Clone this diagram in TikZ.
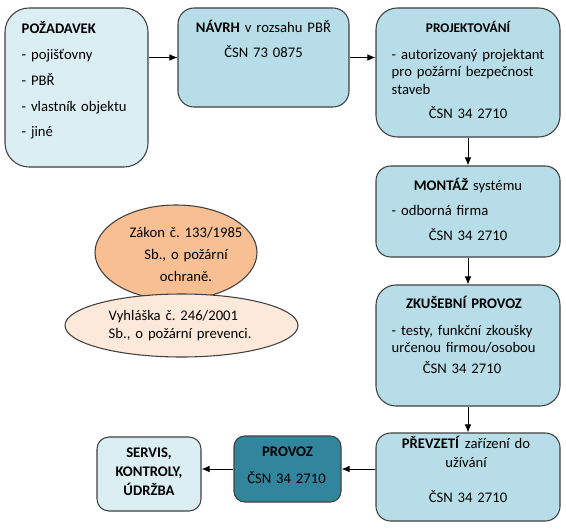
\documentclass[tikz,border=0pt]{standalone}
\usepackage{fontspec}
\setmainfont{Carlito}
\frenchspacing
\usetikzlibrary{positioning,shapes.geometric,calc,arrows.meta}

\definecolor{palebox}{HTML}{DAEEF3}
\definecolor{stagebox}{HTML}{B7DEE8}
\definecolor{runbox}{HTML}{31859C}
\definecolor{peach}{HTML}{F8C092}
\definecolor{cream}{HTML}{FDE9D9}

\begin{document}
\begin{tikzpicture}
  [
    x=0.75pt, y=-0.75pt,
    font=\fontsize{11pt}{13.5pt}\selectfont,
    stage/.style={draw=black!75, line width=0.8pt, fill=#1, inner sep=0pt},
    law/.style={ellipse, draw=black!75, line width=0.8pt, fill=#1, inner sep=0pt},
    boxsize/.style 2 args={minimum width=#1*0.75pt, minimum height=#2*0.75pt},
    caption/.style={anchor=base, text width=160pt, align=center, inner sep=0pt},
    note/.style={anchor=base west, text width=160pt, align=left, inner sep=0pt},
    flow/.style={draw=black, line width=0.75pt, -{Latex[length=6pt,width=5pt]}},
  ]

  \useasboundingbox (0,0) rectangle (566,528);

  % boxes
  \node[stage=palebox, boxsize={143}{159}, rounded corners=18pt] (req) at (76.5,87.5) {};
  \node[stage=stagebox, boxsize={171}{99}, rounded corners=12pt] (design) at (263.5,57.5) {};
  \node[stage=stagebox, boxsize={184}{129}, rounded corners=16pt] (proj) at (468,72.5) {};
  \node[stage=stagebox, boxsize={184}{91}, rounded corners=11pt] (mount) at (468,211.5) {};
  \node[stage=stagebox, boxsize={184}{121}, rounded corners=15pt] (trial) at (468,345.5) {};
  \node[stage=stagebox, boxsize={184}{88}, rounded corners=11pt] (handover) at (468,477) {};
  \node[stage=runbox, boxsize={107}{66}, rounded corners=8pt] (oper) at (287.5,469) {};
  \node[stage=palebox, boxsize={104}{74}, rounded corners=9pt] (service) at (149,474) {};

  % laws
  \node[law=peach, boxsize={162}{95}] (act) at (176,252.5) {};
  \node[law=cream, boxsize={233}{63}] (decree) at (181.5,325.5) {};

  % texts
  \node[note] (req text) at ($(req.north west)+(17,26)$)
    {\textbf{POŽADAVEK}\\[5.9pt] - pojišťovny\\[5.9pt] - PBŘ\\[5.9pt] - vlastník objektu\\[5.9pt] - jiné};
  \node[caption] (design text) at ($(design.north)+(0,25.5)$)
    {\textbf{NÁVRH} v rozsahu PBŘ\\[5.25pt] ČSN 73 0875};
  \node[caption, font=\fontsize{10pt}{12pt}\selectfont\bfseries] (proj title) at ($(proj.north)+(0,25)$) {PROJEKTOVÁNÍ};
  \node[note, font=\fontsize{11pt}{13pt}\selectfont] (proj note) at ($(proj.north west)+(16,52)$)
    {- autorizovaný projektant\\pro požární bezpečnost\\staveb};
  \node[caption] (mount title) at ($(mount.north)+(0,25.5)$) {\textbf{MONTÁŽ} systému};
  \node[note] (mount note) at ($(mount.north west)+(16,50)$) {- odborná firma};
  \node[caption] (trial title) at ($(trial.north)+(-4,24.3)$) {\textbf{ZKUŠEBNÍ PROVOZ}};
  \node[note, font=\fontsize{11pt}{13pt}\selectfont] (trial note) at ($(trial.north west)+(16,51)$)
    {- testy, funkční zkoušky\\určenou firmou/osobou};
  \node[caption, font=\fontsize{11pt}{14.25pt}\selectfont] (handover title) at ($(handover.north)+(-2,16.3)$)
    {\textbf{PŘEVZETÍ} zařízení do\\užívání};
  \node[caption] (oper title) at ($(oper.north)+(0,21.3)$) {\textbf{PROVOZ}};
  \node[caption, font=\fontsize{11pt}{14.4pt}\selectfont\bfseries] (service text) at ($(service.north)+(0,20.7)$)
    {SERVIS,\\KONTROLY,\\ÚDRŽBA};

  % norms
  \foreach \b/\dx/\dy in {proj/0/111, mount/0/75.5, trial/-6/89.3, handover/0/69.7, oper/-1/48}
    \node[caption] (\b norm) at ($(\b.north)+(\dx,\dy)$) {ČSN 34 2710};

  \node[caption, font=\fontsize{11pt}{16.5pt}\selectfont] (act text) at ($(act.center)+(10,-14.8)$)
    {Zákon č. 133/1985\\Sb., o požární\\ochraně.};
  \node[note, font=\fontsize{11pt}{13.9pt}\selectfont] (decree text) at ($(decree.west)+(44,-5.5)$)
    {Vyhláška č. 246/2001\\Sb., o požární prevenci.};

  % flow
  \draw[flow] (req.east |- design.west) -- (design.west);
  \draw[flow] (design.east) -- (design.east -| proj.west);
  \foreach \a/\b in {proj/mount, mount/trial, trial/handover}
    \draw[flow] (\a) -- (\b);
  \draw[flow] (handover.west |- oper.east) -- (oper.east);
  \draw[flow] (oper.west) -- (oper.west -| service.east);

\end{tikzpicture}
\end{document}
